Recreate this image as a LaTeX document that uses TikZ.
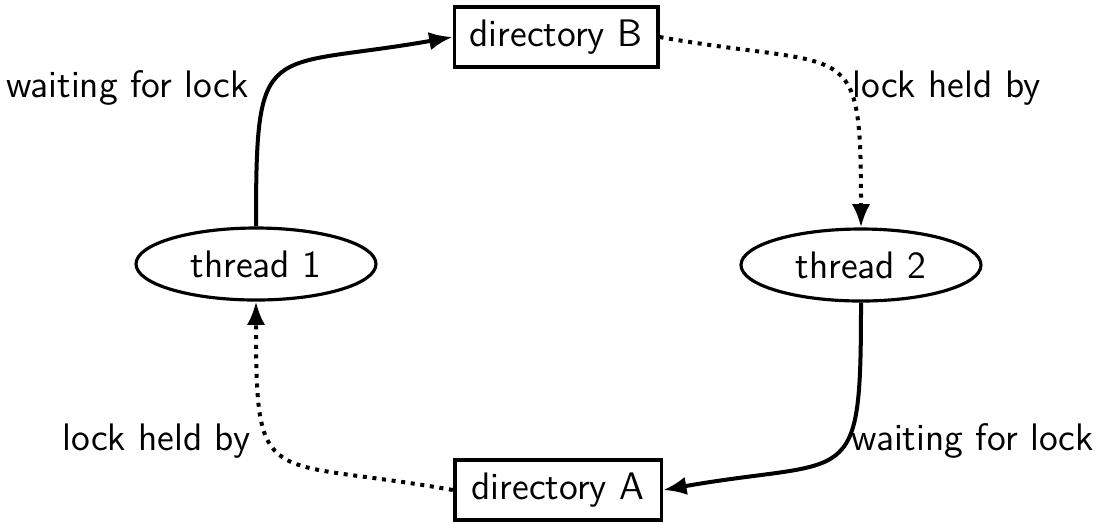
\documentclass[tikz,border=0pt]{standalone}
\usetikzlibrary{shapes.geometric,arrows.meta}
\begin{document}
\begin{tikzpicture}[x=0.3pt,y=-0.3pt,
  font=\sffamily\fontsize{11.5}{13.5}\selectfont,
  dirbox/.style={draw,line width=1.1pt,minimum width=61pt,minimum height=18pt,inner sep=0pt},
  thr/.style={draw,ellipse,line width=0.95pt,minimum width=72pt,minimum height=21.6pt,inner sep=0pt},
  waitarrow/.style={line width=1.2pt,-{Latex[length=7pt,width=5.5pt]}},
  heldarrow/.style={line width=1.2pt,dash pattern=on 1.2pt off 1.7pt,-{Latex[length=7pt,width=5.5pt]}},
  lbl/.style={inner sep=0pt}]
\useasboundingbox (0,0) rectangle (1099,522);
\node[dirbox] (B) at (556,37) {directory B};
\node[dirbox,minimum width=62pt] (A) at (558,490) {directory A};
\node[thr] (t1) at (256,264) {thread 1};
\node[thr] (t2) at (861,265) {thread 2};
\node[lbl,anchor=base east] (l1) at (249,97) {waiting for lock};
\node[lbl,anchor=base west] (l2) at (852,97) {lock held by};
\node[lbl,anchor=base east] (l3) at (251,450) {lock held by};
\node[lbl,anchor=base west] (l4) at (851,450) {waiting for lock};
\draw[waitarrow] (t1.north) to[out=90,in=190,looseness=1.8] (B.west);
\draw[heldarrow] (B.east) to[out=-10,in=90,looseness=1.8] (t2.north);
\draw[waitarrow] (t2.south) to[out=-90,in=10,looseness=1.8] (A.east);
\draw[heldarrow] (A.west) to[out=170,in=-90,looseness=1.8] (t1.south);
\end{tikzpicture}
\end{document}
